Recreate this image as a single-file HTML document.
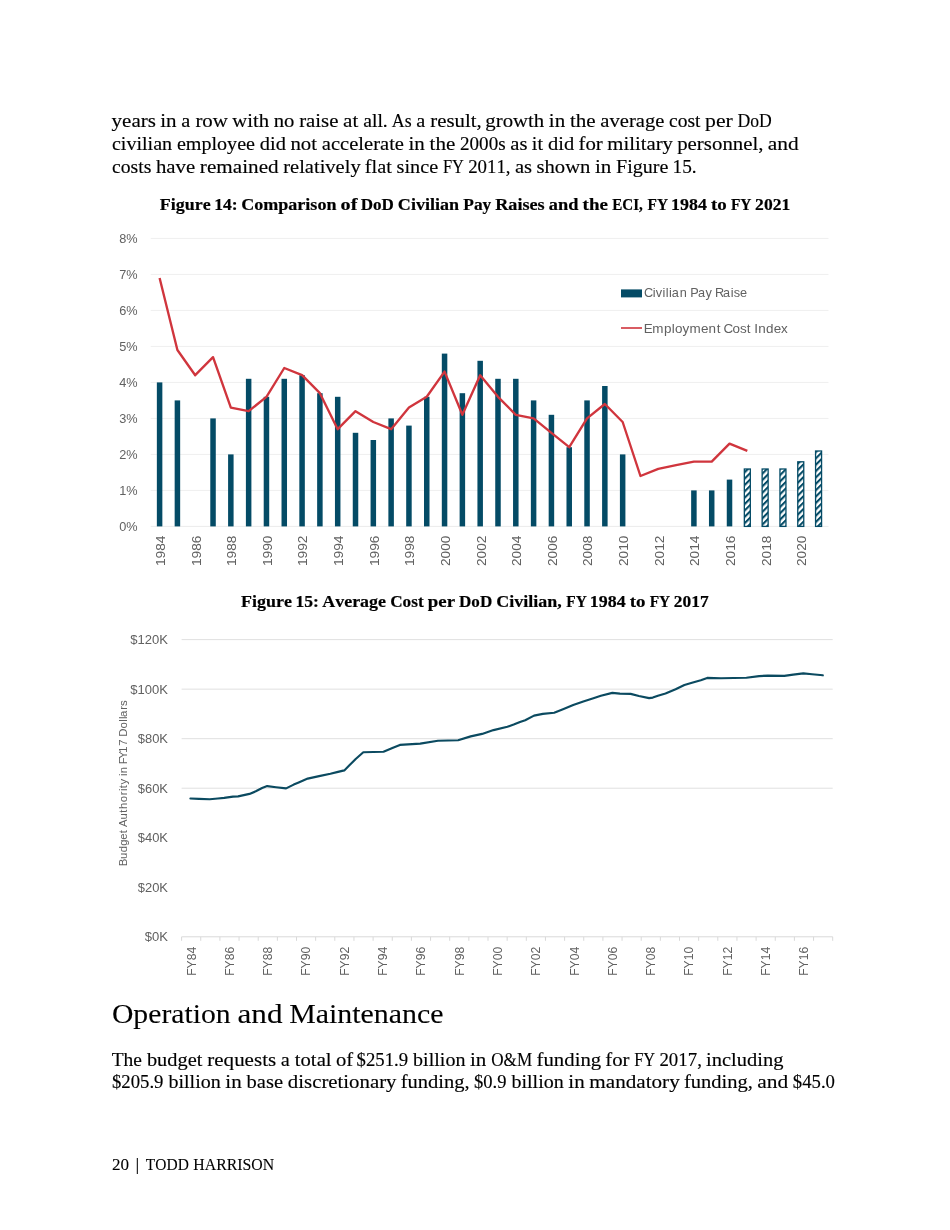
<!DOCTYPE html>
<html lang="en"><head><meta charset="utf-8"><title>Todd Harrison — page 20</title>
<style>
html,body{margin:0;padding:0;background:#fff;}
body{width:950px;height:1230px;position:relative;overflow:hidden;}
svg{position:absolute;left:0;top:0;display:block;will-change:transform;}
text{white-space:pre;font-variant-ligatures:none;}
</style></head><body>
<svg width="950" height="1230" viewBox="0 0 950 1230">
<defs><pattern id="hatch" patternUnits="userSpaceOnUse" width="4.5" height="4.5" patternTransform="rotate(45)"><rect width="4.5" height="4.5" fill="#fff"/><rect width="2.1" height="4.5" fill="#044b66"/></pattern></defs>
<g id="chart14">
<rect x="150.7" y="489.9" width="677.8" height="1" fill="#efefef"/>
<rect x="150.7" y="453.9" width="677.8" height="1" fill="#efefef"/>
<rect x="150.7" y="417.9" width="677.8" height="1" fill="#efefef"/>
<rect x="150.7" y="381.9" width="677.8" height="1" fill="#efefef"/>
<rect x="150.7" y="345.9" width="677.8" height="1" fill="#efefef"/>
<rect x="150.7" y="309.9" width="677.8" height="1" fill="#efefef"/>
<rect x="150.7" y="273.9" width="677.8" height="1" fill="#efefef"/>
<rect x="150.7" y="237.9" width="677.8" height="1" fill="#efefef"/>
<rect x="150.7" y="525.9" width="677.8" height="1" fill="#ececec"/>
<rect x="156.85" y="382.4" width="5.5" height="144" fill="#044b66"/>
<rect x="174.66" y="400.4" width="5.5" height="126" fill="#044b66"/>
<rect x="210.28" y="418.4" width="5.5" height="108" fill="#044b66"/>
<rect x="228.09" y="454.4" width="5.5" height="72" fill="#044b66"/>
<rect x="245.9" y="378.8" width="5.5" height="147.6" fill="#044b66"/>
<rect x="263.71" y="396.8" width="5.5" height="129.6" fill="#044b66"/>
<rect x="281.52" y="378.8" width="5.5" height="147.6" fill="#044b66"/>
<rect x="299.33" y="375.2" width="5.5" height="151.2" fill="#044b66"/>
<rect x="317.14" y="393.2" width="5.5" height="133.2" fill="#044b66"/>
<rect x="334.95" y="396.8" width="5.5" height="129.6" fill="#044b66"/>
<rect x="352.76" y="432.8" width="5.5" height="93.6" fill="#044b66"/>
<rect x="370.57" y="440" width="5.5" height="86.4" fill="#044b66"/>
<rect x="388.38" y="418.4" width="5.5" height="108" fill="#044b66"/>
<rect x="406.19" y="425.6" width="5.5" height="100.8" fill="#044b66"/>
<rect x="424" y="396.8" width="5.5" height="129.6" fill="#044b66"/>
<rect x="441.81" y="353.6" width="5.5" height="172.8" fill="#044b66"/>
<rect x="459.62" y="393.2" width="5.5" height="133.2" fill="#044b66"/>
<rect x="477.43" y="360.8" width="5.5" height="165.6" fill="#044b66"/>
<rect x="495.24" y="378.8" width="5.5" height="147.6" fill="#044b66"/>
<rect x="513.05" y="378.8" width="5.5" height="147.6" fill="#044b66"/>
<rect x="530.86" y="400.4" width="5.5" height="126" fill="#044b66"/>
<rect x="548.67" y="414.8" width="5.5" height="111.6" fill="#044b66"/>
<rect x="566.48" y="447.2" width="5.5" height="79.2" fill="#044b66"/>
<rect x="584.29" y="400.4" width="5.5" height="126" fill="#044b66"/>
<rect x="602.1" y="386" width="5.5" height="140.4" fill="#044b66"/>
<rect x="619.91" y="454.4" width="5.5" height="72" fill="#044b66"/>
<rect x="691.15" y="490.4" width="5.5" height="36" fill="#044b66"/>
<rect x="708.96" y="490.4" width="5.5" height="36" fill="#044b66"/>
<rect x="726.77" y="479.6" width="5.5" height="46.8" fill="#044b66"/>
<rect x="744.33" y="469" width="6" height="57.4" fill="url(#hatch)" stroke="#044b66" stroke-width="1.3"/>
<rect x="762.14" y="469" width="6" height="57.4" fill="url(#hatch)" stroke="#044b66" stroke-width="1.3"/>
<rect x="779.95" y="469" width="6" height="57.4" fill="url(#hatch)" stroke="#044b66" stroke-width="1.3"/>
<rect x="797.76" y="461.8" width="6" height="64.6" fill="url(#hatch)" stroke="#044b66" stroke-width="1.3"/>
<rect x="815.57" y="451" width="6" height="75.4" fill="url(#hatch)" stroke="#044b66" stroke-width="1.3"/>
<polyline points="159.6,278 177.41,350 195.22,375.2 213.03,357.2 230.84,407.6 248.65,411.2 266.46,396.8 284.27,368 302.08,375.2 319.89,393.2 337.7,429.2 355.51,411.2 373.32,422 391.13,429.2 408.94,407.6 426.75,396.8 444.56,371.6 462.37,414.8 480.18,375.2 497.99,396.8 515.8,414.8 533.61,418.4 551.42,432.8 569.23,447.2 587.04,418.4 604.85,404 622.66,422 640.47,476 658.28,468.8 676.09,465.2 693.9,461.6 711.71,461.6 729.52,443.6 747.33,450.8" fill="none" stroke="#d0353d" stroke-width="2.35" stroke-linejoin="round" stroke-linecap="butt"/>
<text x="137.6" y="531" font-size="13" text-anchor="end" fill="#616161" font-family="'Liberation Sans', 'DejaVu Sans', sans-serif" textLength="18.4" lengthAdjust="spacingAndGlyphs">0%</text>
<text x="137.6" y="495" font-size="13" text-anchor="end" fill="#616161" font-family="'Liberation Sans', 'DejaVu Sans', sans-serif" textLength="18.4" lengthAdjust="spacingAndGlyphs">1%</text>
<text x="137.6" y="459" font-size="13" text-anchor="end" fill="#616161" font-family="'Liberation Sans', 'DejaVu Sans', sans-serif" textLength="18.4" lengthAdjust="spacingAndGlyphs">2%</text>
<text x="137.6" y="423" font-size="13" text-anchor="end" fill="#616161" font-family="'Liberation Sans', 'DejaVu Sans', sans-serif" textLength="18.4" lengthAdjust="spacingAndGlyphs">3%</text>
<text x="137.6" y="387" font-size="13" text-anchor="end" fill="#616161" font-family="'Liberation Sans', 'DejaVu Sans', sans-serif" textLength="18.4" lengthAdjust="spacingAndGlyphs">4%</text>
<text x="137.6" y="351" font-size="13" text-anchor="end" fill="#616161" font-family="'Liberation Sans', 'DejaVu Sans', sans-serif" textLength="18.4" lengthAdjust="spacingAndGlyphs">5%</text>
<text x="137.6" y="315" font-size="13" text-anchor="end" fill="#616161" font-family="'Liberation Sans', 'DejaVu Sans', sans-serif" textLength="18.4" lengthAdjust="spacingAndGlyphs">6%</text>
<text x="137.6" y="279" font-size="13" text-anchor="end" fill="#616161" font-family="'Liberation Sans', 'DejaVu Sans', sans-serif" textLength="18.4" lengthAdjust="spacingAndGlyphs">7%</text>
<text x="137.6" y="243" font-size="13" text-anchor="end" fill="#616161" font-family="'Liberation Sans', 'DejaVu Sans', sans-serif" textLength="18.4" lengthAdjust="spacingAndGlyphs">8%</text>
<text transform="translate(165,566) rotate(-90)" font-size="13" fill="#616161" font-family="'Liberation Sans', 'DejaVu Sans', sans-serif" textLength="30.5" lengthAdjust="spacingAndGlyphs">1984</text>
<text transform="translate(200.62,566) rotate(-90)" font-size="13" fill="#616161" font-family="'Liberation Sans', 'DejaVu Sans', sans-serif" textLength="30.5" lengthAdjust="spacingAndGlyphs">1986</text>
<text transform="translate(236.24,566) rotate(-90)" font-size="13" fill="#616161" font-family="'Liberation Sans', 'DejaVu Sans', sans-serif" textLength="30.5" lengthAdjust="spacingAndGlyphs">1988</text>
<text transform="translate(271.86,566) rotate(-90)" font-size="13" fill="#616161" font-family="'Liberation Sans', 'DejaVu Sans', sans-serif" textLength="30.5" lengthAdjust="spacingAndGlyphs">1990</text>
<text transform="translate(307.48,566) rotate(-90)" font-size="13" fill="#616161" font-family="'Liberation Sans', 'DejaVu Sans', sans-serif" textLength="30.5" lengthAdjust="spacingAndGlyphs">1992</text>
<text transform="translate(343.1,566) rotate(-90)" font-size="13" fill="#616161" font-family="'Liberation Sans', 'DejaVu Sans', sans-serif" textLength="30.5" lengthAdjust="spacingAndGlyphs">1994</text>
<text transform="translate(378.72,566) rotate(-90)" font-size="13" fill="#616161" font-family="'Liberation Sans', 'DejaVu Sans', sans-serif" textLength="30.5" lengthAdjust="spacingAndGlyphs">1996</text>
<text transform="translate(414.34,566) rotate(-90)" font-size="13" fill="#616161" font-family="'Liberation Sans', 'DejaVu Sans', sans-serif" textLength="30.5" lengthAdjust="spacingAndGlyphs">1998</text>
<text transform="translate(449.96,566) rotate(-90)" font-size="13" fill="#616161" font-family="'Liberation Sans', 'DejaVu Sans', sans-serif" textLength="30.5" lengthAdjust="spacingAndGlyphs">2000</text>
<text transform="translate(485.58,566) rotate(-90)" font-size="13" fill="#616161" font-family="'Liberation Sans', 'DejaVu Sans', sans-serif" textLength="30.5" lengthAdjust="spacingAndGlyphs">2002</text>
<text transform="translate(521.2,566) rotate(-90)" font-size="13" fill="#616161" font-family="'Liberation Sans', 'DejaVu Sans', sans-serif" textLength="30.5" lengthAdjust="spacingAndGlyphs">2004</text>
<text transform="translate(556.82,566) rotate(-90)" font-size="13" fill="#616161" font-family="'Liberation Sans', 'DejaVu Sans', sans-serif" textLength="30.5" lengthAdjust="spacingAndGlyphs">2006</text>
<text transform="translate(592.44,566) rotate(-90)" font-size="13" fill="#616161" font-family="'Liberation Sans', 'DejaVu Sans', sans-serif" textLength="30.5" lengthAdjust="spacingAndGlyphs">2008</text>
<text transform="translate(628.06,566) rotate(-90)" font-size="13" fill="#616161" font-family="'Liberation Sans', 'DejaVu Sans', sans-serif" textLength="30.5" lengthAdjust="spacingAndGlyphs">2010</text>
<text transform="translate(663.68,566) rotate(-90)" font-size="13" fill="#616161" font-family="'Liberation Sans', 'DejaVu Sans', sans-serif" textLength="30.5" lengthAdjust="spacingAndGlyphs">2012</text>
<text transform="translate(699.3,566) rotate(-90)" font-size="13" fill="#616161" font-family="'Liberation Sans', 'DejaVu Sans', sans-serif" textLength="30.5" lengthAdjust="spacingAndGlyphs">2014</text>
<text transform="translate(734.92,566) rotate(-90)" font-size="13" fill="#616161" font-family="'Liberation Sans', 'DejaVu Sans', sans-serif" textLength="30.5" lengthAdjust="spacingAndGlyphs">2016</text>
<text transform="translate(770.54,566) rotate(-90)" font-size="13" fill="#616161" font-family="'Liberation Sans', 'DejaVu Sans', sans-serif" textLength="30.5" lengthAdjust="spacingAndGlyphs">2018</text>
<text transform="translate(806.16,566) rotate(-90)" font-size="13" fill="#616161" font-family="'Liberation Sans', 'DejaVu Sans', sans-serif" textLength="30.5" lengthAdjust="spacingAndGlyphs">2020</text>
<rect x="621" y="289.4" width="21" height="8" fill="#044b66"/>
<text transform="matrix(0.9645 0 0 1 0 0)" x="667.71 676.81 680.01 686.91 690.28 693.68 696.36 704.74 712.51 715.74 723.60 731.57 738.23 741.40 749.53 757.69 760.82 767.37" y="297.4" font-size="13.2" fill="#616161" font-family="'Liberation Sans', 'DejaVu Sans', sans-serif">Civilian Pay Raise</text>
<rect x="621" y="327.2" width="21" height="1.6" fill="#d0353d"/>
<text transform="matrix(1.0198 0 0 1 0 0)" x="631.20 639.53 651.12 658.75 661.96 669.32 676.18 687.44 694.86 702.73 706.92 709.55 718.34 725.62 732.19 736.37 739.59 743.43 751.13 758.65 765.86" y="333" font-size="13.2" fill="#616161" font-family="'Liberation Sans', 'DejaVu Sans', sans-serif">Employment Cost Index</text>
</g>
<g id="chart15">
<rect x="181.6" y="787.71" width="651.1" height="1" fill="#e0e0e0"/>
<rect x="181.6" y="738.18" width="651.1" height="1" fill="#e0e0e0"/>
<rect x="181.6" y="688.65" width="651.1" height="1" fill="#e0e0e0"/>
<rect x="181.6" y="639.12" width="651.1" height="1" fill="#e0e0e0"/>
<rect x="181.6" y="936.3" width="651.1" height="1" fill="#d9d9d9"/>
<rect x="181.1" y="936.8" width="1" height="4" fill="#d9d9d9"/>
<rect x="200.25" y="936.8" width="1" height="4" fill="#d9d9d9"/>
<rect x="219.4" y="936.8" width="1" height="4" fill="#d9d9d9"/>
<rect x="238.55" y="936.8" width="1" height="4" fill="#d9d9d9"/>
<rect x="257.7" y="936.8" width="1" height="4" fill="#d9d9d9"/>
<rect x="276.85" y="936.8" width="1" height="4" fill="#d9d9d9"/>
<rect x="296" y="936.8" width="1" height="4" fill="#d9d9d9"/>
<rect x="315.15" y="936.8" width="1" height="4" fill="#d9d9d9"/>
<rect x="334.3" y="936.8" width="1" height="4" fill="#d9d9d9"/>
<rect x="353.45" y="936.8" width="1" height="4" fill="#d9d9d9"/>
<rect x="372.6" y="936.8" width="1" height="4" fill="#d9d9d9"/>
<rect x="391.75" y="936.8" width="1" height="4" fill="#d9d9d9"/>
<rect x="410.9" y="936.8" width="1" height="4" fill="#d9d9d9"/>
<rect x="430.05" y="936.8" width="1" height="4" fill="#d9d9d9"/>
<rect x="449.2" y="936.8" width="1" height="4" fill="#d9d9d9"/>
<rect x="468.35" y="936.8" width="1" height="4" fill="#d9d9d9"/>
<rect x="487.5" y="936.8" width="1" height="4" fill="#d9d9d9"/>
<rect x="506.65" y="936.8" width="1" height="4" fill="#d9d9d9"/>
<rect x="525.8" y="936.8" width="1" height="4" fill="#d9d9d9"/>
<rect x="544.95" y="936.8" width="1" height="4" fill="#d9d9d9"/>
<rect x="564.1" y="936.8" width="1" height="4" fill="#d9d9d9"/>
<rect x="583.25" y="936.8" width="1" height="4" fill="#d9d9d9"/>
<rect x="602.4" y="936.8" width="1" height="4" fill="#d9d9d9"/>
<rect x="621.55" y="936.8" width="1" height="4" fill="#d9d9d9"/>
<rect x="640.7" y="936.8" width="1" height="4" fill="#d9d9d9"/>
<rect x="659.85" y="936.8" width="1" height="4" fill="#d9d9d9"/>
<rect x="679" y="936.8" width="1" height="4" fill="#d9d9d9"/>
<rect x="698.15" y="936.8" width="1" height="4" fill="#d9d9d9"/>
<rect x="717.3" y="936.8" width="1" height="4" fill="#d9d9d9"/>
<rect x="736.45" y="936.8" width="1" height="4" fill="#d9d9d9"/>
<rect x="755.6" y="936.8" width="1" height="4" fill="#d9d9d9"/>
<rect x="774.75" y="936.8" width="1" height="4" fill="#d9d9d9"/>
<rect x="793.9" y="936.8" width="1" height="4" fill="#d9d9d9"/>
<rect x="813.05" y="936.8" width="1" height="4" fill="#d9d9d9"/>
<rect x="832.2" y="936.8" width="1" height="4" fill="#d9d9d9"/>
<text x="168" y="941.3" font-size="12.6" text-anchor="end" fill="#616161" font-family="'Liberation Sans', 'DejaVu Sans', sans-serif" textLength="23.2" lengthAdjust="spacingAndGlyphs">$0K</text>
<text x="168" y="891.77" font-size="12.6" text-anchor="end" fill="#616161" font-family="'Liberation Sans', 'DejaVu Sans', sans-serif" textLength="30.2" lengthAdjust="spacingAndGlyphs">$20K</text>
<text x="168" y="842.24" font-size="12.6" text-anchor="end" fill="#616161" font-family="'Liberation Sans', 'DejaVu Sans', sans-serif" textLength="30.2" lengthAdjust="spacingAndGlyphs">$40K</text>
<text x="168" y="792.71" font-size="12.6" text-anchor="end" fill="#616161" font-family="'Liberation Sans', 'DejaVu Sans', sans-serif" textLength="30.2" lengthAdjust="spacingAndGlyphs">$60K</text>
<text x="168" y="743.18" font-size="12.6" text-anchor="end" fill="#616161" font-family="'Liberation Sans', 'DejaVu Sans', sans-serif" textLength="30.2" lengthAdjust="spacingAndGlyphs">$80K</text>
<text x="168" y="693.65" font-size="12.6" text-anchor="end" fill="#616161" font-family="'Liberation Sans', 'DejaVu Sans', sans-serif" textLength="37.7" lengthAdjust="spacingAndGlyphs">$100K</text>
<text x="168" y="644.12" font-size="12.6" text-anchor="end" fill="#616161" font-family="'Liberation Sans', 'DejaVu Sans', sans-serif" textLength="37.7" lengthAdjust="spacingAndGlyphs">$120K</text>
<text transform="translate(195.57,975.8) rotate(-90)" font-size="12.6" fill="#616161" font-family="'Liberation Sans', 'DejaVu Sans', sans-serif" textLength="29" lengthAdjust="spacingAndGlyphs">FY84</text>
<text transform="translate(233.88,975.8) rotate(-90)" font-size="12.6" fill="#616161" font-family="'Liberation Sans', 'DejaVu Sans', sans-serif" textLength="29" lengthAdjust="spacingAndGlyphs">FY86</text>
<text transform="translate(272.17,975.8) rotate(-90)" font-size="12.6" fill="#616161" font-family="'Liberation Sans', 'DejaVu Sans', sans-serif" textLength="29" lengthAdjust="spacingAndGlyphs">FY88</text>
<text transform="translate(310.47,975.8) rotate(-90)" font-size="12.6" fill="#616161" font-family="'Liberation Sans', 'DejaVu Sans', sans-serif" textLength="29" lengthAdjust="spacingAndGlyphs">FY90</text>
<text transform="translate(348.77,975.8) rotate(-90)" font-size="12.6" fill="#616161" font-family="'Liberation Sans', 'DejaVu Sans', sans-serif" textLength="29" lengthAdjust="spacingAndGlyphs">FY92</text>
<text transform="translate(387.07,975.8) rotate(-90)" font-size="12.6" fill="#616161" font-family="'Liberation Sans', 'DejaVu Sans', sans-serif" textLength="29" lengthAdjust="spacingAndGlyphs">FY94</text>
<text transform="translate(425.38,975.8) rotate(-90)" font-size="12.6" fill="#616161" font-family="'Liberation Sans', 'DejaVu Sans', sans-serif" textLength="29" lengthAdjust="spacingAndGlyphs">FY96</text>
<text transform="translate(463.67,975.8) rotate(-90)" font-size="12.6" fill="#616161" font-family="'Liberation Sans', 'DejaVu Sans', sans-serif" textLength="29" lengthAdjust="spacingAndGlyphs">FY98</text>
<text transform="translate(501.98,975.8) rotate(-90)" font-size="12.6" fill="#616161" font-family="'Liberation Sans', 'DejaVu Sans', sans-serif" textLength="29" lengthAdjust="spacingAndGlyphs">FY00</text>
<text transform="translate(540.27,975.8) rotate(-90)" font-size="12.6" fill="#616161" font-family="'Liberation Sans', 'DejaVu Sans', sans-serif" textLength="29" lengthAdjust="spacingAndGlyphs">FY02</text>
<text transform="translate(578.58,975.8) rotate(-90)" font-size="12.6" fill="#616161" font-family="'Liberation Sans', 'DejaVu Sans', sans-serif" textLength="29" lengthAdjust="spacingAndGlyphs">FY04</text>
<text transform="translate(616.88,975.8) rotate(-90)" font-size="12.6" fill="#616161" font-family="'Liberation Sans', 'DejaVu Sans', sans-serif" textLength="29" lengthAdjust="spacingAndGlyphs">FY06</text>
<text transform="translate(655.18,975.8) rotate(-90)" font-size="12.6" fill="#616161" font-family="'Liberation Sans', 'DejaVu Sans', sans-serif" textLength="29" lengthAdjust="spacingAndGlyphs">FY08</text>
<text transform="translate(693.48,975.8) rotate(-90)" font-size="12.6" fill="#616161" font-family="'Liberation Sans', 'DejaVu Sans', sans-serif" textLength="29" lengthAdjust="spacingAndGlyphs">FY10</text>
<text transform="translate(731.78,975.8) rotate(-90)" font-size="12.6" fill="#616161" font-family="'Liberation Sans', 'DejaVu Sans', sans-serif" textLength="29" lengthAdjust="spacingAndGlyphs">FY12</text>
<text transform="translate(770.08,975.8) rotate(-90)" font-size="12.6" fill="#616161" font-family="'Liberation Sans', 'DejaVu Sans', sans-serif" textLength="29" lengthAdjust="spacingAndGlyphs">FY14</text>
<text transform="translate(808.38,975.8) rotate(-90)" font-size="12.6" fill="#616161" font-family="'Liberation Sans', 'DejaVu Sans', sans-serif" textLength="29" lengthAdjust="spacingAndGlyphs">FY16</text>
<text transform="translate(127.3,865.2) rotate(-90) matrix(1.0006 0 0 1 0 0)" x="-1.18 6.26 12.99 19.48 25.48 31.99 35.62 38.15 45.60 52.47 56.29 62.98 69.90 74.08 77.01 80.55 86.14 89.13 91.99 98.52 100.92 106.32 112.29 119.42 125.77 128.50 136.74 143.34 146.10 148.21 155.32 159.21" y="0" font-size="11.4" fill="#616161" font-family="'Liberation Sans', 'DejaVu Sans', sans-serif">Budget Authority in FY17 Dollars</text>
<polyline points="190.4,798.5 198.9,798.9 209.7,799.2 217.9,798.5 224.2,797.9 233,796.6 238.1,796.4 249.5,793.9 255.8,791.3 262.1,788 267.2,786.1 276,787.2 286.1,788.4 293.7,784.6 298.1,782.7 307.7,778.6 319.1,776.1 330.4,773.8 338,771.9 344.3,770.4 349.4,765.3 355.7,759 363.3,752.3 383.5,751.8 393.6,747.4 399.9,744.9 420.2,743.6 437.9,740.7 458.1,740.2 470.7,736.4 482.1,733.9 493.5,730.1 507.4,726.8 513.7,724.6 520,722.1 525.2,720.2 534,715.6 542.8,713.9 554.2,712.8 563,709.3 573.2,705 583.3,701.5 593.4,698.3 600.9,695.8 612.3,692.9 619.9,693.6 630.7,693.9 638.9,696 649.1,698.1 652.8,697.6 657.9,695.7 665.5,693.5 675.6,689.3 684.4,685 692,682.7 700.8,680.2 707.2,677.9 721,678.3 746.4,677.8 759.1,676.1 767.9,675.6 784.3,675.9 793.2,674.6 803.3,673.4 812.1,674.3 822.8,675.3" fill="none" stroke="#0b4a60" stroke-width="2.15" stroke-linejoin="round" stroke-linecap="round"/>
</g>
<g id="text">
<text transform="matrix(1.0768 0 0 1 0 0)" x="103.62 113.37 122.02 130.68 137.17" y="127.3" font-size="19.5" stroke="#000" stroke-width="0.15" fill="#000" font-family="'Liberation Serif', 'DejaVu Serif', serif">years</text>
<text transform="matrix(1.0794 0 0 1 0 0)" x="148.46 153.88" y="127.3" font-size="19.5" stroke="#000" stroke-width="0.15" fill="#000" font-family="'Liberation Serif', 'DejaVu Serif', serif">in</text>
<text transform="matrix(1.0419 0 0 1 0 0)" x="174.06" y="127.3" font-size="19.5" stroke="#000" stroke-width="0.15" fill="#000" font-family="'Liberation Serif', 'DejaVu Serif', serif">a</text>
<text transform="matrix(1.0725 0 0 1 0 0)" x="182.19 188.68 198.43" y="127.3" font-size="19.5" stroke="#000" stroke-width="0.15" fill="#000" font-family="'Liberation Serif', 'DejaVu Serif', serif">row</text>
<text transform="matrix(1.0619 0 0 1 0 0)" x="218.73 232.81 238.23 243.65" y="127.3" font-size="19.5" stroke="#000" stroke-width="0.15" fill="#000" font-family="'Liberation Serif', 'DejaVu Serif', serif">with</text>
<text transform="matrix(1.0615 0 0 1 0 0)" x="257.87 267.62" y="127.3" font-size="19.5" stroke="#000" stroke-width="0.15" fill="#000" font-family="'Liberation Serif', 'DejaVu Serif', serif">no</text>
<text transform="matrix(1.0679 0 0 1 0 0)" x="280.12 286.62 295.27 300.69 308.28" y="127.3" font-size="19.5" stroke="#000" stroke-width="0.15" fill="#000" font-family="'Liberation Serif', 'DejaVu Serif', serif">raise</text>
<text transform="matrix(1.0829 0 0 1 0 0)" x="316.86 325.51" y="127.3" font-size="19.5" stroke="#000" stroke-width="0.15" fill="#000" font-family="'Liberation Serif', 'DejaVu Serif', serif">at</text>
<text transform="matrix(1.0067 0 0 1 0 0)" x="360.82 369.47 374.89 380.31" y="127.3" font-size="19.5" stroke="#000" stroke-width="0.15" fill="#000" font-family="'Liberation Serif', 'DejaVu Serif', serif">all.</text>
<text transform="matrix(0.9136 0 0 1 0 0)" x="428.83 442.91" y="127.3" font-size="19.5" stroke="#000" stroke-width="0.15" fill="#000" font-family="'Liberation Serif', 'DejaVu Serif', serif">As</text>
<text transform="matrix(1.0419 0 0 1 0 0)" x="399.54" y="127.3" font-size="19.5" stroke="#000" stroke-width="0.15" fill="#000" font-family="'Liberation Serif', 'DejaVu Serif', serif">a</text>
<text transform="matrix(1.0681 0 0 1 0 0)" x="402.88 409.38 418.03 425.62 435.37 440.79 446.21" y="127.3" font-size="19.5" stroke="#000" stroke-width="0.15" fill="#000" font-family="'Liberation Serif', 'DejaVu Serif', serif">result,</text>
<text transform="matrix(1.0666 0 0 1 0 0)" x="455.05 464.80 471.29 481.04 495.13 500.54" y="127.3" font-size="19.5" stroke="#000" stroke-width="0.15" fill="#000" font-family="'Liberation Serif', 'DejaVu Serif', serif">growth</text>
<text transform="matrix(1.0794 0 0 1 0 0)" x="508.47 513.89" y="127.3" font-size="19.5" stroke="#000" stroke-width="0.15" fill="#000" font-family="'Liberation Serif', 'DejaVu Serif', serif">in</text>
<text transform="matrix(1.0803 0 0 1 0 0)" x="527.53 532.95 542.70" y="127.3" font-size="19.5" stroke="#000" stroke-width="0.15" fill="#000" font-family="'Liberation Serif', 'DejaVu Serif', serif">the</text>
<text transform="matrix(1.0552 0 0 1 0 0)" x="568.94 577.60 587.35 596.00 602.49 611.15 620.90" y="127.3" font-size="19.5" stroke="#000" stroke-width="0.15" fill="#000" font-family="'Liberation Serif', 'DejaVu Serif', serif">average</text>
<text transform="matrix(1.0020 0 0 1 0 0)" x="667.71 676.36 686.11 693.70" y="127.3" font-size="19.5" stroke="#000" stroke-width="0.15" fill="#000" font-family="'Liberation Serif', 'DejaVu Serif', serif">cost</text>
<text transform="matrix(1.1131 0 0 1 0 0)" x="633.47 643.22 651.88" y="127.3" font-size="19.5" stroke="#000" stroke-width="0.15" fill="#000" font-family="'Liberation Serif', 'DejaVu Serif', serif">per</text>
<text transform="matrix(0.9035 0 0 1 0 0)" x="816.25 830.33 840.08" y="127.3" font-size="19.5" stroke="#000" stroke-width="0.15" fill="#000" font-family="'Liberation Serif', 'DejaVu Serif', serif">DoD</text>
<text transform="matrix(1.0296 0 0 1 0 0)" x="108.72 117.38 122.79 132.54 137.96 143.38 148.80 157.45" y="149.8" font-size="19.5" stroke="#000" stroke-width="0.15" fill="#000" font-family="'Liberation Serif', 'DejaVu Serif', serif">civilian</text>
<text transform="matrix(1.0304 0 0 1 0 0)" x="171.68 180.34 195.51 205.26 210.67 220.42 230.17 238.83" y="149.8" font-size="19.5" stroke="#000" stroke-width="0.15" fill="#000" font-family="'Liberation Serif', 'DejaVu Serif', serif">employee</text>
<text transform="matrix(1.0501 0 0 1 0 0)" x="247.42 257.17 262.59" y="149.8" font-size="19.5" stroke="#000" stroke-width="0.15" fill="#000" font-family="'Liberation Serif', 'DejaVu Serif', serif">did</text>
<text transform="matrix(1.0668 0 0 1 0 0)" x="272.26 282.01 291.76" y="149.8" font-size="19.5" stroke="#000" stroke-width="0.15" fill="#000" font-family="'Liberation Serif', 'DejaVu Serif', serif">not</text>
<text transform="matrix(1.0539 0 0 1 0 0)" x="305.42 314.08 322.73 331.39 340.04 345.46 354.12 360.61 369.26 374.68" y="149.8" font-size="19.5" stroke="#000" stroke-width="0.15" fill="#000" font-family="'Liberation Serif', 'DejaVu Serif', serif">accelerate</text>
<text transform="matrix(1.0783 0 0 1 0 0)" x="378.84 384.26" y="149.8" font-size="19.5" stroke="#000" stroke-width="0.15" fill="#000" font-family="'Liberation Serif', 'DejaVu Serif', serif">in</text>
<text transform="matrix(1.0803 0 0 1 0 0)" x="397.62 403.04 412.79" y="149.8" font-size="19.5" stroke="#000" stroke-width="0.15" fill="#000" font-family="'Liberation Serif', 'DejaVu Serif', serif">the</text>
<text transform="matrix(0.9786 0 0 1 0 0)" x="470.11 479.86 489.61 499.36 509.11" y="149.8" font-size="19.5" stroke="#000" stroke-width="0.15" fill="#000" font-family="'Liberation Serif', 'DejaVu Serif', serif">2000s</text>
<text transform="matrix(1.0573 0 0 1 0 0)" x="482.60 491.25" y="149.8" font-size="19.5" stroke="#000" stroke-width="0.15" fill="#000" font-family="'Liberation Serif', 'DejaVu Serif', serif">as</text>
<text transform="matrix(1.0355 0 0 1 0 0)" x="513.61 519.03" y="149.8" font-size="19.5" stroke="#000" stroke-width="0.15" fill="#000" font-family="'Liberation Serif', 'DejaVu Serif', serif">it</text>
<text transform="matrix(1.0501 0 0 1 0 0)" x="521.86 531.61 537.03" y="149.8" font-size="19.5" stroke="#000" stroke-width="0.15" fill="#000" font-family="'Liberation Serif', 'DejaVu Serif', serif">did</text>
<text transform="matrix(1.0683 0 0 1 0 0)" x="541.49 547.98 557.73" y="149.8" font-size="19.5" stroke="#000" stroke-width="0.15" fill="#000" font-family="'Liberation Serif', 'DejaVu Serif', serif">for</text>
<text transform="matrix(1.0637 0 0 1 0 0)" x="570.92 586.09 591.51 596.92 602.34 607.76 616.41 622.91" y="149.8" font-size="19.5" stroke="#000" stroke-width="0.15" fill="#000" font-family="'Liberation Serif', 'DejaVu Serif', serif">military</text>
<text transform="matrix(1.0702 0 0 1 0 0)" x="632.76 642.51 651.17 657.66 665.25 675.00 684.75 694.50 703.16 708.57" y="149.8" font-size="19.5" stroke="#000" stroke-width="0.15" fill="#000" font-family="'Liberation Serif', 'DejaVu Serif', serif">personnel,</text>
<text transform="matrix(1.0992 0 0 1 0 0)" x="698.45 707.10 716.85" y="149.8" font-size="19.5" stroke="#000" stroke-width="0.15" fill="#000" font-family="'Liberation Serif', 'DejaVu Serif', serif">and</text>
<text transform="matrix(1.0105 0 0 1 0 0)" x="110.79 119.44 129.19 136.78 142.20" y="172.8" font-size="19.5" stroke="#000" stroke-width="0.15" fill="#000" font-family="'Liberation Serif', 'DejaVu Serif', serif">costs</text>
<text transform="matrix(1.0656 0 0 1 0 0)" x="146.33 156.08 164.73 174.48" y="172.8" font-size="19.5" stroke="#000" stroke-width="0.15" fill="#000" font-family="'Liberation Serif', 'DejaVu Serif', serif">have</text>
<text transform="matrix(1.0860 0 0 1 0 0)" x="184.04 190.53 199.19 214.35 223.01 228.43 238.18 246.83" y="172.8" font-size="19.5" stroke="#000" stroke-width="0.15" fill="#000" font-family="'Liberation Serif', 'DejaVu Serif', serif">remained</text>
<text transform="matrix(1.0512 0 0 1 0 0)" x="269.45 275.95 284.60 290.02 298.68 304.09 309.51 319.26 327.92 333.33" y="172.8" font-size="19.5" stroke="#000" stroke-width="0.15" fill="#000" font-family="'Liberation Serif', 'DejaVu Serif', serif">relatively</text>
<text transform="matrix(1.0425 0 0 1 0 0)" x="349.97 356.47 361.89 370.54" y="172.8" font-size="19.5" stroke="#000" stroke-width="0.15" fill="#000" font-family="'Liberation Serif', 'DejaVu Serif', serif">flat</text>
<text transform="matrix(1.0381 0 0 1 0 0)" x="382.05 389.64 395.05 404.80 413.46" y="172.8" font-size="19.5" stroke="#000" stroke-width="0.15" fill="#000" font-family="'Liberation Serif', 'DejaVu Serif', serif">since</text>
<text transform="matrix(0.8436 0 0 1 0 0)" x="525.06 535.91" y="172.8" font-size="19.5" stroke="#000" stroke-width="0.15" fill="#000" font-family="'Liberation Serif', 'DejaVu Serif', serif">FY</text>
<text transform="matrix(0.9674 0 0 1 0 0)" x="483.93 493.68 503.43 513.18 522.93" y="172.8" font-size="19.5" stroke="#000" stroke-width="0.15" fill="#000" font-family="'Liberation Serif', 'DejaVu Serif', serif">2011,</text>
<text transform="matrix(1.0563 0 0 1 0 0)" x="487.49 496.14" y="172.8" font-size="19.5" stroke="#000" stroke-width="0.15" fill="#000" font-family="'Liberation Serif', 'DejaVu Serif', serif">as</text>
<text transform="matrix(1.0606 0 0 1 0 0)" x="505.80 513.39 523.14 532.89 546.97" y="172.8" font-size="19.5" stroke="#000" stroke-width="0.15" fill="#000" font-family="'Liberation Serif', 'DejaVu Serif', serif">shown</text>
<text transform="matrix(1.0794 0 0 1 0 0)" x="551.23 556.65" y="172.8" font-size="19.5" stroke="#000" stroke-width="0.15" fill="#000" font-family="'Liberation Serif', 'DejaVu Serif', serif">in</text>
<text transform="matrix(1.0309 0 0 1 0 0)" x="597.53 608.38 613.79 623.54 633.29 639.79" y="172.8" font-size="19.5" stroke="#000" stroke-width="0.15" fill="#000" font-family="'Liberation Serif', 'DejaVu Serif', serif">Figure</text>
<text transform="matrix(0.9900 0 0 1 0 0)" x="679.34 689.09 698.84" y="172.8" font-size="19.5" stroke="#000" stroke-width="0.15" fill="#000" font-family="'Liberation Serif', 'DejaVu Serif', serif">15.</text>
<text transform="matrix(1.0186 0 0 1 0 0)" x="156.94 167.69 172.58 181.38 191.17 198.98" y="210.0" font-size="17.6" font-weight="bold" stroke="#000" stroke-width="0.2" fill="#000" font-family="'Liberation Serif', 'DejaVu Serif', serif">Figure</text>
<text transform="matrix(0.9999 0 0 1 0 0)" x="214.20 223.00 231.80" y="210.0" font-size="17.6" font-weight="bold" stroke="#000" stroke-width="0.2" fill="#000" font-family="'Liberation Serif', 'DejaVu Serif', serif">14:</text>
<text transform="matrix(1.0262 0 0 1 0 0)" x="234.99 247.70 256.50 271.16 280.95 289.75 297.56 302.45 309.30 318.10" y="210.0" font-size="17.6" font-weight="bold" stroke="#000" stroke-width="0.2" fill="#000" font-family="'Liberation Serif', 'DejaVu Serif', serif">Comparison</text>
<text transform="matrix(1.1441 0 0 1 0 0)" x="297.70 306.50" y="210.0" font-size="17.6" font-weight="bold" stroke="#000" stroke-width="0.2" fill="#000" font-family="'Liberation Serif', 'DejaVu Serif', serif">of</text>
<text transform="matrix(0.9695 0 0 1 0 0)" x="372.01 384.72 393.52" y="210.0" font-size="17.6" font-weight="bold" stroke="#000" stroke-width="0.2" fill="#000" font-family="'Liberation Serif', 'DejaVu Serif', serif">DoD</text>
<text transform="matrix(1.0257 0 0 1 0 0)" x="387.89 400.60 405.49 414.29 419.18 424.07 428.96 437.76" y="210.0" font-size="17.6" font-weight="bold" stroke="#000" stroke-width="0.2" fill="#000" font-family="'Liberation Serif', 'DejaVu Serif', serif">Civilian</text>
<text transform="matrix(0.9843 0 0 1 0 0)" x="470.74 481.49 490.29" y="210.0" font-size="17.6" font-weight="bold" stroke="#000" stroke-width="0.2" fill="#000" font-family="'Liberation Serif', 'DejaVu Serif', serif">Pay</text>
<text transform="matrix(1.0317 0 0 1 0 0)" x="480.01 492.72 501.52 506.41 513.26 521.07" y="210.0" font-size="17.6" font-weight="bold" stroke="#000" stroke-width="0.2" fill="#000" font-family="'Liberation Serif', 'DejaVu Serif', serif">Raises</text>
<text transform="matrix(1.0423 0 0 1 0 0)" x="526.59 535.39 545.18" y="210.0" font-size="17.6" font-weight="bold" stroke="#000" stroke-width="0.2" fill="#000" font-family="'Liberation Serif', 'DejaVu Serif', serif">and</text>
<text transform="matrix(1.0790 0 0 1 0 0)" x="539.92 545.78 555.57" y="210.0" font-size="17.6" font-weight="bold" stroke="#000" stroke-width="0.2" fill="#000" font-family="'Liberation Serif', 'DejaVu Serif', serif">the</text>
<text transform="matrix(0.8575 0 0 1 0 0)" x="714.02 725.76 738.47 745.32" y="210.0" font-size="17.6" font-weight="bold" stroke="#000" stroke-width="0.2" fill="#000" font-family="'Liberation Serif', 'DejaVu Serif', serif">ECI,</text>
<text transform="matrix(0.8749 0 0 1 0 0)" x="740.16 750.91" y="210.0" font-size="17.6" font-weight="bold" stroke="#000" stroke-width="0.2" fill="#000" font-family="'Liberation Serif', 'DejaVu Serif', serif">FY</text>
<text transform="matrix(1.0169 0 0 1 0 0)" x="659.92 668.72 677.52 686.32" y="210.0" font-size="17.6" font-weight="bold" stroke="#000" stroke-width="0.2" fill="#000" font-family="'Liberation Serif', 'DejaVu Serif', serif">1984</text>
<text transform="matrix(1.0758 0 0 1 0 0)" x="660.82 666.69" y="210.0" font-size="17.6" font-weight="bold" stroke="#000" stroke-width="0.2" fill="#000" font-family="'Liberation Serif', 'DejaVu Serif', serif">to</text>
<text transform="matrix(0.8742 0 0 1 0 0)" x="836.11 846.86" y="210.0" font-size="17.6" font-weight="bold" stroke="#000" stroke-width="0.2" fill="#000" font-family="'Liberation Serif', 'DejaVu Serif', serif">FY</text>
<text transform="matrix(0.9980 0 0 1 0 0)" x="756.63 765.43 774.23 783.03" y="210.0" font-size="17.6" font-weight="bold" stroke="#000" stroke-width="0.2" fill="#000" font-family="'Liberation Serif', 'DejaVu Serif', serif">2021</text>
<text transform="matrix(1.0186 0 0 1 0 0)" x="236.72 247.47 252.36 261.16 270.95 278.76" y="606.9" font-size="17.6" font-weight="bold" stroke="#000" stroke-width="0.2" fill="#000" font-family="'Liberation Serif', 'DejaVu Serif', serif">Figure</text>
<text transform="matrix(0.9999 0 0 1 0 0)" x="295.48 304.28 313.08" y="606.9" font-size="17.6" font-weight="bold" stroke="#000" stroke-width="0.2" fill="#000" font-family="'Liberation Serif', 'DejaVu Serif', serif">15:</text>
<text transform="matrix(1.0171 0 0 1 0 0)" x="316.90 329.61 338.41 346.22 354.03 362.83 371.63" y="606.9" font-size="17.6" font-weight="bold" stroke="#000" stroke-width="0.2" fill="#000" font-family="'Liberation Serif', 'DejaVu Serif', serif">Average</text>
<text transform="matrix(0.9764 0 0 1 0 0)" x="399.63 412.34 421.14 427.99" y="606.9" font-size="17.6" font-weight="bold" stroke="#000" stroke-width="0.2" fill="#000" font-family="'Liberation Serif', 'DejaVu Serif', serif">Cost</text>
<text transform="matrix(1.0714 0 0 1 0 0)" x="399.32 409.11 416.92" y="606.9" font-size="17.6" font-weight="bold" stroke="#000" stroke-width="0.2" fill="#000" font-family="'Liberation Serif', 'DejaVu Serif', serif">per</text>
<text transform="matrix(0.9695 0 0 1 0 0)" x="473.48 486.19 494.99" y="606.9" font-size="17.6" font-weight="bold" stroke="#000" stroke-width="0.2" fill="#000" font-family="'Liberation Serif', 'DejaVu Serif', serif">DoD</text>
<text transform="matrix(1.0222 0 0 1 0 0)" x="485.43 498.14 503.03 511.83 516.72 521.61 526.50 535.30 545.09" y="606.9" font-size="17.6" font-weight="bold" stroke="#000" stroke-width="0.2" fill="#000" font-family="'Liberation Serif', 'DejaVu Serif', serif">Civilian,</text>
<text transform="matrix(0.8742 0 0 1 0 0)" x="647.80 658.55" y="606.9" font-size="17.6" font-weight="bold" stroke="#000" stroke-width="0.2" fill="#000" font-family="'Liberation Serif', 'DejaVu Serif', serif">FY</text>
<text transform="matrix(1.0169 0 0 1 0 0)" x="580.02 588.82 597.62 606.42" y="606.9" font-size="17.6" font-weight="bold" stroke="#000" stroke-width="0.2" fill="#000" font-family="'Liberation Serif', 'DejaVu Serif', serif">1984</text>
<text transform="matrix(1.0758 0 0 1 0 0)" x="585.29 591.15" y="606.9" font-size="17.6" font-weight="bold" stroke="#000" stroke-width="0.2" fill="#000" font-family="'Liberation Serif', 'DejaVu Serif', serif">to</text>
<text transform="matrix(0.8749 0 0 1 0 0)" x="742.57 753.32" y="606.9" font-size="17.6" font-weight="bold" stroke="#000" stroke-width="0.2" fill="#000" font-family="'Liberation Serif', 'DejaVu Serif', serif">FY</text>
<text transform="matrix(0.9896 0 0 1 0 0)" x="680.94 689.74 698.54 707.34" y="606.9" font-size="17.6" font-weight="bold" stroke="#000" stroke-width="0.2" fill="#000" font-family="'Liberation Serif', 'DejaVu Serif', serif">2017</text>
<text transform="matrix(1.0529 0 0 1 0 0)" x="106.31 126.68 140.78 153.29 162.68 175.20 183.04 190.87 204.97" y="1022.6" font-size="28.2" stroke="#000" stroke-width="0.1" fill="#000" font-family="'Liberation Serif', 'DejaVu Serif', serif">Operation</text>
<text transform="matrix(1.1061 0 0 1 0 0)" x="214.71 227.23 241.33" y="1022.6" font-size="28.2" stroke="#000" stroke-width="0.1" fill="#000" font-family="'Liberation Serif', 'DejaVu Serif', serif">and</text>
<text transform="matrix(1.0607 0 0 1 0 0)" x="272.59 297.67 310.18 318.02 332.12 339.95 352.47 366.57 379.08 393.18 405.70" y="1022.6" font-size="28.2" stroke="#000" stroke-width="0.1" fill="#000" font-family="'Liberation Serif', 'DejaVu Serif', serif">Maintenance</text>
<text transform="matrix(0.9977 0 0 1 0 0)" x="112.01 123.92 133.67" y="1065.6" font-size="19.5" stroke="#000" stroke-width="0.15" fill="#000" font-family="'Liberation Serif', 'DejaVu Serif', serif">The</text>
<text transform="matrix(1.0465 0 0 1 0 0)" x="140.39 150.14 159.89 169.64 179.39 188.05" y="1065.6" font-size="19.5" stroke="#000" stroke-width="0.15" fill="#000" font-family="'Liberation Serif', 'DejaVu Serif', serif">budget</text>
<text transform="matrix(1.0777 0 0 1 0 0)" x="192.35 198.85 207.50 217.25 227.00 235.66 243.25 248.66" y="1065.6" font-size="19.5" stroke="#000" stroke-width="0.15" fill="#000" font-family="'Liberation Serif', 'DejaVu Serif', serif">requests</text>
<text transform="matrix(1.0419 0 0 1 0 0)" x="269.45" y="1065.6" font-size="19.5" stroke="#000" stroke-width="0.15" fill="#000" font-family="'Liberation Serif', 'DejaVu Serif', serif">a</text>
<text transform="matrix(1.0623 0 0 1 0 0)" x="277.48 282.90 292.65 298.06 306.72" y="1065.6" font-size="19.5" stroke="#000" stroke-width="0.15" fill="#000" font-family="'Liberation Serif', 'DejaVu Serif', serif">total</text>
<text transform="matrix(1.0580 0 0 1 0 0)" x="317.55 327.30" y="1065.6" font-size="19.5" stroke="#000" stroke-width="0.15" fill="#000" font-family="'Liberation Serif', 'DejaVu Serif', serif">of</text>
<text transform="matrix(0.9609 0 0 1 0 0)" x="371.07 380.82 390.57 400.32 410.07 414.95" y="1065.6" font-size="19.5" stroke="#000" stroke-width="0.15" fill="#000" font-family="'Liberation Serif', 'DejaVu Serif', serif">$251.9</text>
<text transform="matrix(1.0279 0 0 1 0 0)" x="401.87 411.62 417.04 422.46 427.88 433.29 443.04" y="1065.6" font-size="19.5" stroke="#000" stroke-width="0.15" fill="#000" font-family="'Liberation Serif', 'DejaVu Serif', serif">billion</text>
<text transform="matrix(1.0794 0 0 1 0 0)" x="435.43 440.84" y="1065.6" font-size="19.5" stroke="#000" stroke-width="0.15" fill="#000" font-family="'Liberation Serif', 'DejaVu Serif', serif">in</text>
<text transform="matrix(0.8789 0 0 1 0 0)" x="558.92 573.00 588.17" y="1065.6" font-size="19.5" stroke="#000" stroke-width="0.15" fill="#000" font-family="'Liberation Serif', 'DejaVu Serif', serif">O&amp;M</text>
<text transform="matrix(1.0655 0 0 1 0 0)" x="503.57 510.06 519.81 529.56 539.31 544.73 554.48" y="1065.6" font-size="19.5" stroke="#000" stroke-width="0.15" fill="#000" font-family="'Liberation Serif', 'DejaVu Serif', serif">funding</text>
<text transform="matrix(1.0683 0 0 1 0 0)" x="566.54 573.04 582.79" y="1065.6" font-size="19.5" stroke="#000" stroke-width="0.15" fill="#000" font-family="'Liberation Serif', 'DejaVu Serif', serif">for</text>
<text transform="matrix(0.8442 0 0 1 0 0)" x="751.19 762.03" y="1065.6" font-size="19.5" stroke="#000" stroke-width="0.15" fill="#000" font-family="'Liberation Serif', 'DejaVu Serif', serif">FY</text>
<text transform="matrix(0.9674 0 0 1 0 0)" x="681.62 691.37 701.12 710.87 720.62" y="1065.6" font-size="19.5" stroke="#000" stroke-width="0.15" fill="#000" font-family="'Liberation Serif', 'DejaVu Serif', serif">2017,</text>
<text transform="matrix(1.0499 0 0 1 0 0)" x="672.48 677.90 687.65 696.31 701.72 711.47 721.22 726.64 736.39" y="1065.6" font-size="19.5" stroke="#000" stroke-width="0.15" fill="#000" font-family="'Liberation Serif', 'DejaVu Serif', serif">including</text>
<text transform="matrix(0.9609 0 0 1 0 0)" x="116.47 126.22 135.97 145.72 155.47 160.35" y="1087.7" font-size="19.5" stroke="#000" stroke-width="0.15" fill="#000" font-family="'Liberation Serif', 'DejaVu Serif', serif">$205.9</text>
<text transform="matrix(1.0279 0 0 1 0 0)" x="163.88 173.63 179.05 184.47 189.89 195.30 205.05" y="1087.7" font-size="19.5" stroke="#000" stroke-width="0.15" fill="#000" font-family="'Liberation Serif', 'DejaVu Serif', serif">billion</text>
<text transform="matrix(1.0794 0 0 1 0 0)" x="208.78 214.20" y="1087.7" font-size="19.5" stroke="#000" stroke-width="0.15" fill="#000" font-family="'Liberation Serif', 'DejaVu Serif', serif">in</text>
<text transform="matrix(1.0525 0 0 1 0 0)" x="234.32 244.07 252.73 260.32" y="1087.7" font-size="19.5" stroke="#000" stroke-width="0.15" fill="#000" font-family="'Liberation Serif', 'DejaVu Serif', serif">base</text>
<text transform="matrix(1.0677 0 0 1 0 0)" x="269.60 279.35 284.77 292.35 301.01 307.50 316.16 321.58 326.99 336.74 346.49 355.15 361.64" y="1087.7" font-size="19.5" stroke="#000" stroke-width="0.15" fill="#000" font-family="'Liberation Serif', 'DejaVu Serif', serif">discretionary</text>
<text transform="matrix(1.0535 0 0 1 0 0)" x="380.35 386.84 396.59 406.34 416.09 421.51 431.26 441.01" y="1087.7" font-size="19.5" stroke="#000" stroke-width="0.15" fill="#000" font-family="'Liberation Serif', 'DejaVu Serif', serif">funding,</text>
<text transform="matrix(0.9509 0 0 1 0 0)" x="498.50 508.25 518.00 522.87" y="1087.7" font-size="19.5" stroke="#000" stroke-width="0.15" fill="#000" font-family="'Liberation Serif', 'DejaVu Serif', serif">$0.9</text>
<text transform="matrix(1.0279 0 0 1 0 0)" x="497.56 507.31 512.73 518.14 523.56 528.98 538.73" y="1087.7" font-size="19.5" stroke="#000" stroke-width="0.15" fill="#000" font-family="'Liberation Serif', 'DejaVu Serif', serif">billion</text>
<text transform="matrix(1.0783 0 0 1 0 0)" x="527.09 532.51" y="1087.7" font-size="19.5" stroke="#000" stroke-width="0.15" fill="#000" font-family="'Liberation Serif', 'DejaVu Serif', serif">in</text>
<text transform="matrix(1.0842 0 0 1 0 0)" x="543.55 558.72 567.37 577.12 586.87 595.53 600.95 610.70 617.19" y="1087.7" font-size="19.5" stroke="#000" stroke-width="0.15" fill="#000" font-family="'Liberation Serif', 'DejaVu Serif', serif">mandatory</text>
<text transform="matrix(1.0535 0 0 1 0 0)" x="649.19 655.68 665.43 675.18 684.93 690.35 700.10 709.85" y="1087.7" font-size="19.5" stroke="#000" stroke-width="0.15" fill="#000" font-family="'Liberation Serif', 'DejaVu Serif', serif">funding,</text>
<text transform="matrix(1.0992 0 0 1 0 0)" x="688.84 697.49 707.24" y="1087.7" font-size="19.5" stroke="#000" stroke-width="0.15" fill="#000" font-family="'Liberation Serif', 'DejaVu Serif', serif">and</text>
<text transform="matrix(0.9626 0 0 1 0 0)" x="823.56 833.31 843.06 852.81 857.68" y="1087.7" font-size="19.5" stroke="#000" stroke-width="0.15" fill="#000" font-family="'Liberation Serif', 'DejaVu Serif', serif">$45.0</text>
<text transform="matrix(1.0123 0 0 1 0 0)" x="110.60 119.05" y="1169.9" font-size="16.9" stroke="#000" stroke-width="0.1" fill="#000" font-family="'Liberation Serif', 'DejaVu Serif', serif">20</text>
<text transform="matrix(1.1065 0 0 1 0 0)" x="122.54" y="1169.9" font-size="16.9" stroke="#000" stroke-width="0.1" fill="#000" font-family="'Liberation Serif', 'DejaVu Serif', serif">|</text>
<text transform="matrix(0.9159 0 0 1 0 0)" x="159.27 169.59 181.80 194.00" y="1169.9" font-size="16.9" stroke="#000" stroke-width="0.1" fill="#000" font-family="'Liberation Serif', 'DejaVu Serif', serif">TODD</text>
<text transform="matrix(0.9361 0 0 1 0 0)" x="206.48 218.68 230.88 242.16 253.43 259.06 268.46 280.66" y="1169.9" font-size="16.9" stroke="#000" stroke-width="0.1" fill="#000" font-family="'Liberation Serif', 'DejaVu Serif', serif">HARRISON</text>
</g>
</svg>
</body></html>
